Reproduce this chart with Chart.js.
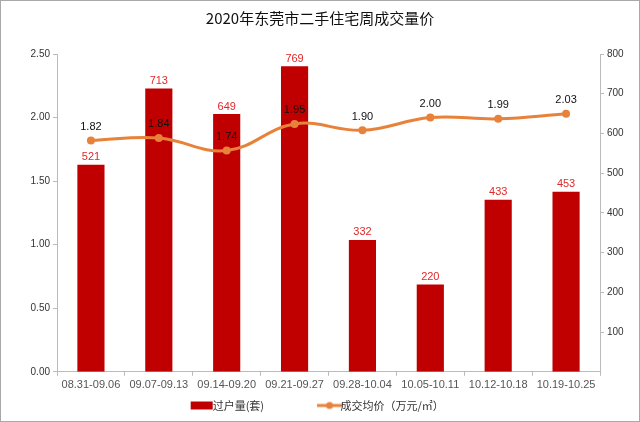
<!DOCTYPE html>
<html>
<head>
<meta charset="utf-8">
<script src="https://cdn.jsdelivr.net/npm/chart.js@4"></script>
<style>
html,body{margin:0;padding:0;background:#fff;}
#wrap{width:638px;height:420px;border:1px solid #a8a8a8;position:relative;}
</style>
</head>
<body>
<div id="wrap"><canvas id="mainChart" width="638" height="420"></canvas></div>
<script>
let weeks = ["08.31-09.06","09.07-09.13","09.14-09.20","09.21-09.27","09.28-10.04","10.05-10.11","10.12-10.18","10.19-10.25"];
let deals = [521, 713, 649, 769, 332, 220, 433, 453];
let avgPrice = [1.82, 1.84, 1.74, 1.95, 1.90, 2.00, 1.99, 2.03];
let leftTicks = [0, 0.5, 1, 1.5, 2, 2.5];
let rightTicks = [100, 200, 300, 400, 500, 600, 700, 800];

const FONT = "'Liberation Sans','Noto Sans CJK SC',sans-serif";

// legend swatches
function swatch(kind){
let c = document.createElement("canvas");
c.width = 26; c.height = 10;
let g = c.getContext("2d");
if(kind == "bar"){
g.fillStyle = "#c00000";
g.fillRect(2,1,22,8);
}else{
g.strokeStyle = "#e8823a"; g.lineWidth = 3;
g.beginPath(); g.moveTo(0,5); g.lineTo(26,5); g.stroke();
g.fillStyle = "#e8823a";
g.beginPath(); g.arc(13,5,3.5,0,Math.PI*2); g.fill();
}
return c;
}

const valueLabels = {
id: "valueLabels",
afterDatasetsDraw(chart){
let ctx = chart.ctx;
ctx.save();
ctx.textAlign = "center";
ctx.textBaseline = "bottom";
chart.data.datasets.forEach((ds, i) => {
let meta = chart.getDatasetMeta(i);
meta.data.forEach((el, j) => {
let v = ds.data[j];
if(ds.type == "bar"){
ctx.fillStyle = "#e02828";
ctx.font = "11px " + FONT;
ctx.fillText(v, el.x, el.y - 2);
}else{
ctx.fillStyle = "#111";
ctx.font = "11px " + FONT;
ctx.fillText(v.toFixed(2), el.x, el.y - 8);
}
});
});
ctx.restore();
}
};

new Chart(document.getElementById("mainChart"), {
data: {
labels: weeks,
datasets: [{
type: "line",
label: "成交均价（万元/㎡）",
data: avgPrice,
yAxisID: "yL",
borderColor: "#e8823a",
backgroundColor: "#e8823a",
borderWidth: 3,
pointRadius: 4,
pointBackgroundColor: "#e8823a",
pointBorderWidth: 0,
tension: 0.4,
order: 0
},{
type: "bar",
label: "过户量(套)",
data: deals,
yAxisID: "yR",
backgroundColor: "#c00000",
barPercentage: 0.8,
categoryPercentage: 0.5,
order: 1
}]
},
options: {
responsive: false,
animation: false,
layout: {padding: {top: 0, left: 0, right: 0, bottom: 0}},
scales: {
x: {
grid: {display: true, drawOnChartArea: false, drawTicks: true, tickLength: 4, color: "#bbb", offset: true},
border: {display: true, color: "#bbb"},
ticks: {color: "#555", font: {size: 11, family: FONT}, maxRotation: 0, autoSkip: false, padding: 3}
},
yL: {
position: "left",
min: 0, max: 2.5,
afterBuildTicks: ax => { ax.ticks = leftTicks.map(v => ({value: v})); },
afterFit: ax => { ax.width = 56; },
grid: {display: true, drawOnChartArea: false, drawTicks: true, tickLength: 4, color: "#bbb"},
border: {display: true, color: "#bbb"},
ticks: {color: "#333", font: {size: 10, family: FONT}, padding: 3, callback: v => v.toFixed(2)}
},
yR: {
position: "right",
min: 0, max: 800,
afterBuildTicks: ax => { ax.ticks = rightTicks.map(v => ({value: v})); },
afterFit: ax => { ax.width = 39; },
grid: {display: true, drawOnChartArea: false, drawTicks: true, tickLength: 4, color: "#bbb"},
border: {display: true, color: "#bbb"},
ticks: {color: "#333", font: {size: 10, family: FONT}, padding: 3}
}
},
plugins: {
title: {
display: true,
text: "2020年东莞市二手住宅周成交量价",
color: "#111",
font: {size: 15, weight: "normal", family: "'Noto Sans CJK SC',sans-serif"},
padding: {top: 8, bottom: 27}
},
legend: {
position: "bottom",
labels: {
usePointStyle: true,
color: "#333",
font: {size: 11, family: "'Noto Sans CJK SC',sans-serif"},
padding: 5,
generateLabels: chart => [
{text: "过户量(套)\u3000\u3000\u3000\u3000\u3000", pointStyle: swatch("bar"), datasetIndex: 1, fontColor: "#333"},
{text: "成交均价（万元/㎡）", pointStyle: swatch("line"), datasetIndex: 0, fontColor: "#333"}
]
}
},
tooltip: {enabled: false}
}
},
plugins: [valueLabels]
});
</script>
</body>
</html>
